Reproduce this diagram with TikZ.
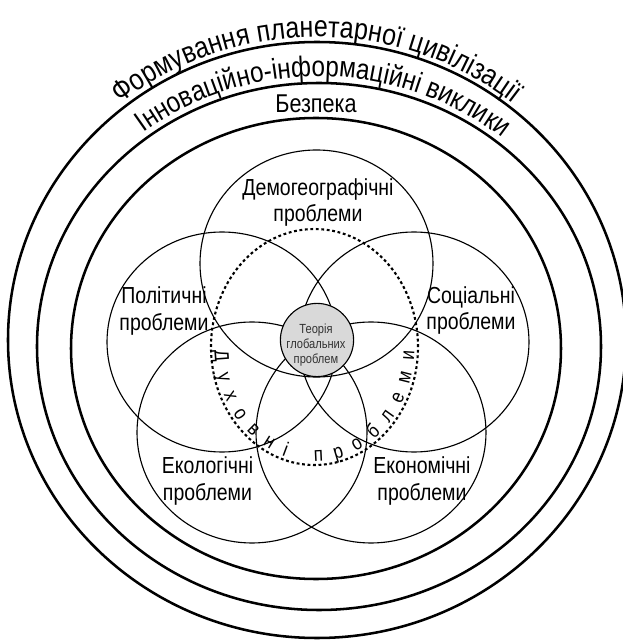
\documentclass[tikz,border=0pt]{standalone}
\usepackage{fontspec}
\setmainfont{Liberation Sans}[FakeStretch=0.84]
\usetikzlibrary{decorations.text}
\tikzset{
  ring/.style={line width=1.8pt},
  field/.style={line width=0.8pt},
  spirit/.style={line width=1.5pt, dash pattern=on 2pt off 1.9pt},
  caption/.style={font=\fontsize{16.5}{19}\selectfont, align=center, inner sep=0pt},
  hub/.style={circle, draw, line width=0.8pt, fill=black!15, minimum size=1.83cm, inner sep=0pt},
  hubtext/.style={font=\fontsize{9.4}{10.6}\selectfont, text=black!80, align=center, inner sep=0pt}
}
\newcommand{\arcfont}{\fontsize{20.5}{24}\selectfont}

\begin{document}
\begin{tikzpicture}[x=0.025cm,y=0.025cm]
	\useasboundingbox (0,0) rectangle (623,641);
	% outer rings
	\coordinate (R1) at (317,301);
	\coordinate (R2) at (319,294.5);
	\coordinate (R3) at (316,292.5);
	\draw[ring] (R1) ellipse [x radius=309, y radius=298];
	\draw[ring] (R2) ellipse [x radius=282, y radius=263.5];
	\draw[ring] (R3) ellipse [x radius=245, y radius=230.5];
	\path[decorate, decoration={text along path, text align=center,
		text={|\fontsize{21.2}{24}\selectfont|Формування планетарної цивілізації}}]
		(R1) ++(165:314 and 303) arc [start angle=165, end angle=15, x radius=314, y radius=303];
	\path[decorate, decoration={text along path, text align=center,
		text={|\arcfont|Інноваційно-інформаційні виклики}}]
		(R2) ++(164:288 and 270) arc [start angle=164, end angle=14, x radius=288, y radius=270];
	\node[font=\fontsize{18.3}{22}\selectfont, inner sep=0pt] (safety) at (316,537) {Безпека};
	% five problem fields
	\coordinate (demo) at (316.5,377.5);
	\coordinate (poli) at (222,299);
	\coordinate (soci) at (414,299);
	\coordinate (ecol) at (252,208.5);
	\coordinate (econ) at (371,208.5);
	\draw[field] (demo) ellipse [x radius=116.5, y radius=113.5];
	\draw[field] (poli) ellipse [x radius=115, y radius=110];
	\draw[field] (soci) ellipse [x radius=115, y radius=110];
	\draw[field] (ecol) ellipse [x radius=115, y radius=110.5];
	\draw[field] (econ) ellipse [x radius=115, y radius=110.5];
	\node[caption] (demotext) at (318,438.5) {Демогеографічні\\проблеми};
	\node[caption] (politext) at (164,330) {Політичні\\проблеми};
	\node[caption] (socitext) at (471,330.5) {Соціальні\\проблеми};
	\node[caption] (ecoltext) at (207.5,160) {Екологічні\\проблеми};
	\node[caption] (econtext) at (422,160) {Економічні\\проблеми};
	% spiritual problems
	\coordinate (S) at (314.5,294);
	\draw[spirit] (S) ellipse [x radius=103.5, y radius=118];
	\path[decorate, decoration={text along path, text align=fit to path, raise=2.5pt,
		text={|\fontsize{14.5}{17}\selectfont|Духовні проблеми}}]
		(S) ++(182:103.5 and 118) arc [start angle=182, end angle=358, x radius=103.5, y radius=118];
	% core
	\node[hub] (core) at (317,301) {};
	\node[hubtext] (coretext) at (316,296) {Теорія\\глобальних\\проблем};
\end{tikzpicture}
\end{document}
